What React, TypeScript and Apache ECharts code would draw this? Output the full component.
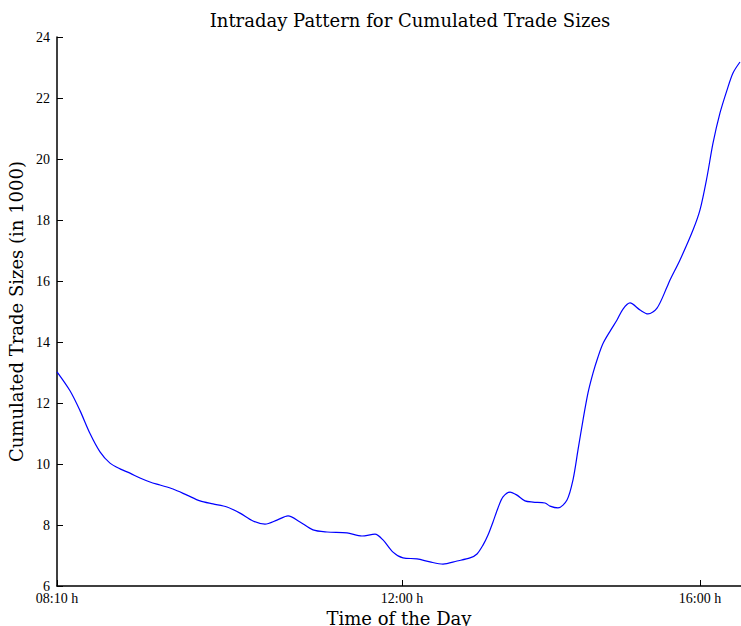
import React, { useEffect, useRef } from "react";
import * as echarts from "echarts";

// x positions along the trading-day axis (axis units; 0 = 08:10 h)
const xPos = [0, 13, 23, 33, 43, 53, 63, 73, 83, 93, 103, 116, 130, 143, 156, 170, 183, 196, 208, 220, 231, 243, 256, 270, 290, 305, 318, 326, 336, 346, 360, 373, 386, 400, 413, 420, 426, 431, 436, 441, 446, 453, 460, 468, 476, 488, 493, 501, 510, 516, 521, 526, 531, 536, 541, 546, 553, 560, 566, 573, 583, 591, 600, 610, 613, 623, 636, 643, 650, 656, 663, 670, 676, 683];
const values = [13.02, 12.4, 11.75, 11.0, 10.4, 10.03, 9.84, 9.7, 9.54, 9.41, 9.31, 9.18, 8.98, 8.79, 8.69, 8.59, 8.39, 8.13, 8.03, 8.16, 8.3, 8.1, 7.84, 7.77, 7.74, 7.64, 7.7, 7.51, 7.11, 6.92, 6.89, 6.79, 6.72, 6.82, 6.92, 7.05, 7.34, 7.67, 8.1, 8.56, 8.92, 9.08, 8.98, 8.79, 8.75, 8.72, 8.62, 8.56, 8.82, 9.48, 10.46, 11.44, 12.33, 12.98, 13.51, 13.95, 14.35, 14.72, 15.08, 15.28, 15.05, 14.92, 15.11, 15.8, 16.03, 16.69, 17.67, 18.33, 19.41, 20.52, 21.51, 22.26, 22.82, 23.18];
const xTickPos = [0, 345, 643];
const xTickLabels = ["08:10 h", "12:00 h", "16:00 h"];

const FONT = "Liberation Serif";
const NAME_FONT = "DejaVu Serif";

export default function App() {
  const ref = useRef<HTMLDivElement>(null);
  useEffect(() => {
    if (!ref.current) return;
    const chart = echarts.init(ref.current, null, { renderer: "svg" });
    const data = xPos.map((x, i) => [x, values[i]]);
    chart.setOption({
      animation: false,
      title: {
        text: "Intraday Pattern for Cumulated Trade Sizes",
        left: 405,
        textAlign: "center",
        top: 6,
        textStyle: { fontFamily: NAME_FONT, fontSize: 18, fontWeight: "normal", color: "#000" },
      },
      grid: { left: 57, right: 0, top: 37, bottom: 40, containLabel: false, outerBoundsMode: "none" },
      xAxis: {
        type: "value",
        min: 0,
        max: 684,
        name: "Time of the Day",
        nameLocation: "middle",
        nameGap: 19,
        nameTextStyle: { fontFamily: NAME_FONT, fontSize: 18, color: "#000" },
        axisLine: { show: true, onZero: false, lineStyle: { color: "#000", width: 1.5 } },
        axisTick: {
          show: true,
          inside: true,
          length: 6,
          customValues: xTickPos,
          lineStyle: { color: "#000", width: 1 },
        },
        axisLabel: {
          customValues: xTickPos,
          formatter: (v: number) => {
            const i = xTickPos.indexOf(v);
            return i >= 0 ? xTickLabels[i] : "";
          },
          fontFamily: FONT,
          fontSize: 14,
          color: "#000",
          margin: 5,
        },
        splitLine: { show: false },
      },
      yAxis: {
        type: "value",
        min: 6,
        max: 24,
        interval: 2,
        name: "Cumulated Trade Sizes (in 1000)",
        nameLocation: "middle",
        nameGap: 27,
        nameTextStyle: { fontFamily: NAME_FONT, fontSize: 18, color: "#000" },
        axisLine: { show: true, lineStyle: { color: "#000", width: 1.5 } },
        axisTick: { show: true, inside: true, length: 6, lineStyle: { color: "#000", width: 1 } },
        axisLabel: { fontFamily: FONT, fontSize: 14, color: "#000", margin: 7 },
        splitLine: { show: false },
      },
      series: [
        {
          type: "line",
          data,
          smooth: 0.3,
          showSymbol: false,
          symbol: "none",
          lineStyle: { color: "#0000ff", width: 1.2 },
        },
      ],
    });
    return () => chart.dispose();
  }, []);
  return <div ref={ref} style={{ width: 741, height: 626, position: "absolute", left: 0, top: 0 }} />;
}
